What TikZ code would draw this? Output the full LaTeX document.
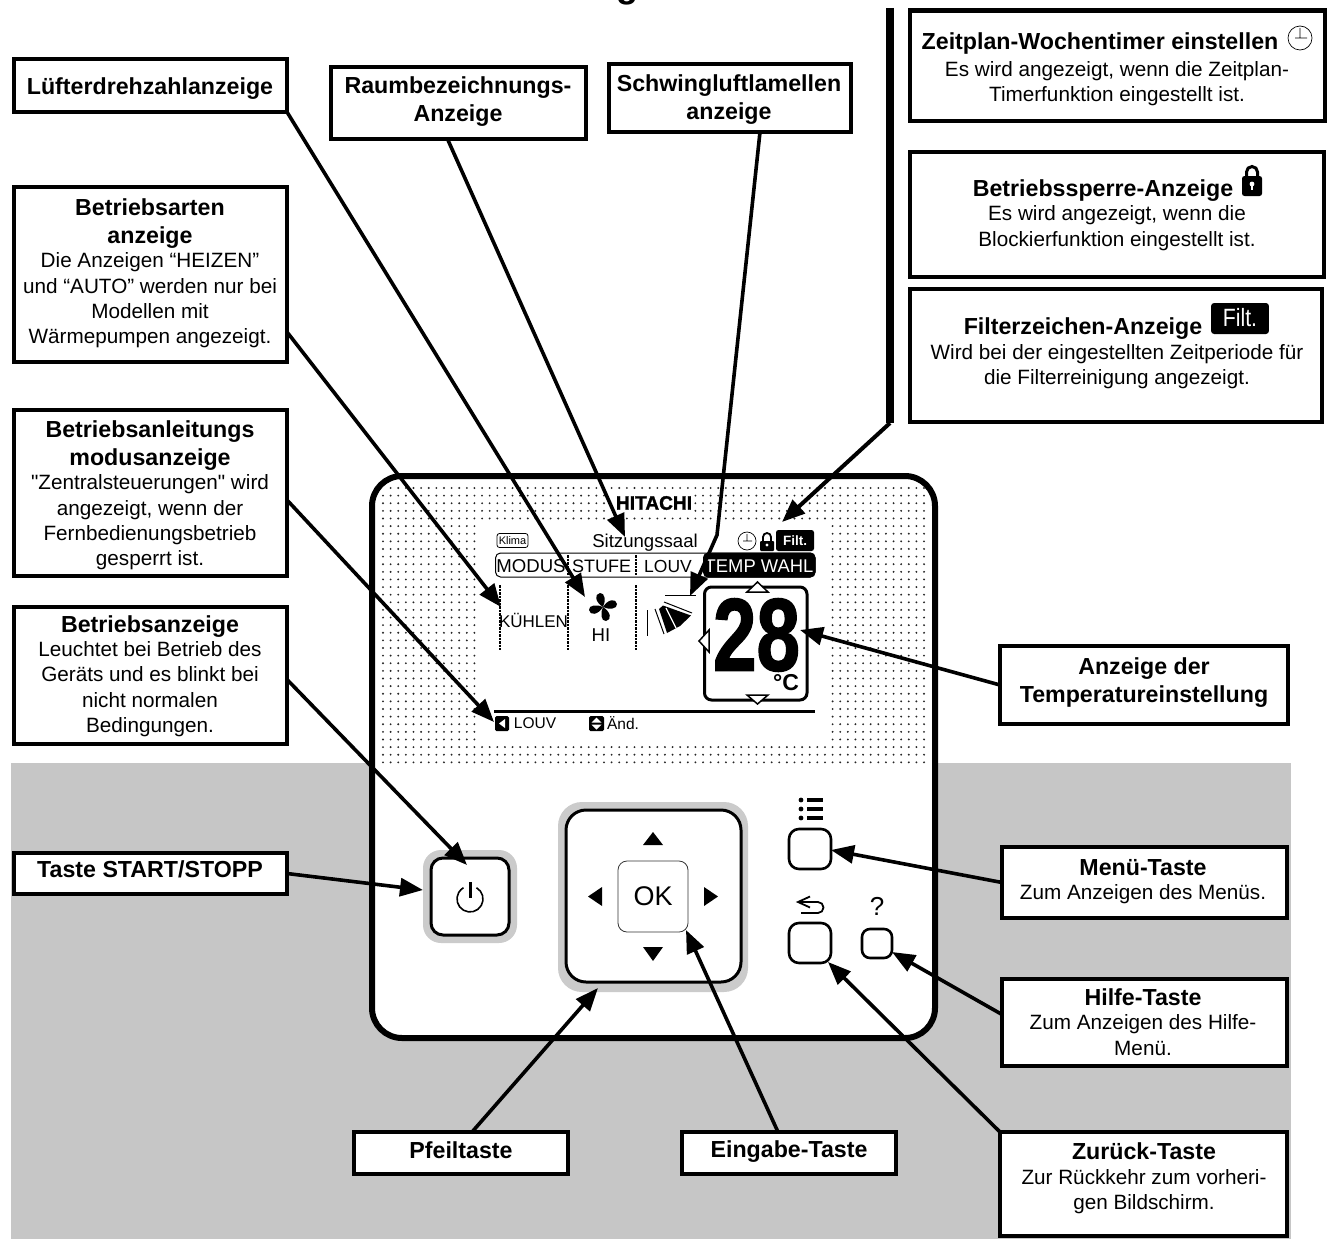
\documentclass[tikz,border=0pt]{standalone}
\usepackage{fontspec}
\setmainfont{Liberation Sans}
\newfontfamily\rawf{Liberation Sans}
\newfontfamily\heavyf{Liberation Sans Bold}[FakeBold=1.6]
\usetikzlibrary{arrows.meta,calc}
\tikzset{
  x=1pt,y=-1pt,
  lblbox/.style={draw=black,line width=4.4pt,fill=white,rectangle,inner sep=0pt,outer sep=0pt,text=black},
  txt/.style={align=center,inner sep=0pt,outer sep=0pt,font=\fontsize{20.7}{25.3}\selectfont},
  hd/.style={align=center,inner sep=0pt,outer sep=0pt,font=\bfseries\fontsize{23.2}{28}\selectfont},
  arr/.style={line width=3.6pt,-{Triangle[length=23pt,width=18pt]},shorten >=0pt},
  key/.style={draw=black,line width=2.6pt,fill=white,rounded corners=10pt},
  gring/.style={fill=ringgray,rounded corners=18pt},
  tabdash/.style={line width=2pt,dash pattern=on 2.5pt off 1pt},
  disp/.style={inner sep=0pt,outer sep=0pt,font=\fontsize{18.6}{20}\selectfont}
}
\definecolor{bandgray}{HTML}{C6C6C6}
\definecolor{ringgray}{HTML}{CBCBCB}
\newcommand{\lbox}[5]{%
  \pgfmathsetmacro{\lw}{#4-#2}\pgfmathsetmacro{\lh}{#5-#3}%
  \pgfmathsetmacro{\lx}{(#4+#2)/2}\pgfmathsetmacro{\ly}{(#5+#3)/2}%
  \node[lblbox,minimum width=\lw pt,minimum height=\lh pt] (#1) at (\lx,\ly) {};}
\begin{document}
\begin{tikzpicture}
\useasboundingbox (0,0) rectangle (1327,1239);
\fill[white] (0,0) rectangle (1327,1239);
% cut-off title descender
\begin{scope}
\clip (0,0) rectangle (1327,1239);
\node[inner sep=0pt,anchor=base,font=\bfseries\fontsize{36}{36}\selectfont] (titleg) at (627,-2.5) {g};
\end{scope}
% grey band
\fill[bandgray] (11,763) rectangle (1291,1239);
% device
\draw[line width=6pt,fill=white,rounded corners=30pt] (372,476) rectangle (935,1038);
% dots
\foreach \i in {0,...,71}{\foreach \j in {0,...,36}{
  \pgfmathsetmacro{\dx}{383+\i*7.62}\pgfmathsetmacro{\dy}{488+\j*7.62}
  \pgfmathtruncatemacro{\skipit}{(\dx>478 && \dx<828 && \dy>522 && \dy<744) || (\dx>608 && \dx<694 && \dy>492 && \dy<516) || (\dx<390 && \dy<492) ? 1 : 0}
  \ifnum\skipit=0 \fill[black!85] (\dx,\dy) circle (1.05pt);\fi
}}
% display
\node[inner sep=0pt,font=\heavyf\fontsize{19.5}{20}\selectfont,xscale=.98] (brand) at (654,503) {HITACHI};
\node[draw,line width=.8pt,rounded corners=2.5pt,minimum width=31pt,minimum height=14pt,inner sep=0pt,font=\fontsize{11}{12}\selectfont] (klima) at (512.5,540.5) {Klima};
\node[disp] (room) at (645,543) {Sitzungssaal};
\draw[line width=.7pt] (747,541) circle (9) (747,534) -- (747,541) (743,541) -- (752,541);
\fill[rounded corners=1pt] (760,541) rectangle (774,551);
\draw[line width=1.8pt] (763,541) -- (763,537) arc (180:360:4) -- (771,541);
\fill[white] (767,545) circle (1.6);
\node[fill=black,rounded corners=2.5pt,text=white,minimum width=38pt,minimum height=21pt,inner sep=0pt,font=\bfseries\fontsize{13.5}{14}\selectfont] (filt) at (795,540.5) {Filt.};
\draw[line width=1pt,rounded corners=5pt] (495.5,553) rectangle (815,577);
\fill[rounded corners=5pt] (703,552.5) rectangle (815.5,577.5);
\node[disp,font=\fontsize{18.6}{20}\selectfont] (modus) at (531,566) {MODUS};
\node[disp,font=\fontsize{18}{20}\selectfont] (stufe) at (601.5,566) {STUFE};
\node[disp,font=\fontsize{17.5}{20}\selectfont] (louv) at (668,566) {LOUV};
\node[disp,text=white,font=\fontsize{18.4}{20}\selectfont] (twahl) at (759,566) {TEMP WAHL};
\draw[tabdash] (568,555) -- (568,576) (636,555) -- (636,576);
\draw[tabdash] (500,585) -- (500,650) (568,585) -- (568,650) (636,585) -- (636,650);
\node[disp,font=\fontsize{17}{20}\selectfont] (kuehlen) at (533.5,620) {KÜHLEN};
\node[disp] (hi) at (601,635) {HI};
% fan
\foreach \a in {0,90,180,270}{
 \begin{scope}[shift={(603,607)},rotate=\a]
 \fill (0,0) .. controls (-8,-5) and (-9,-13) .. (-3,-14) .. controls (2,-14.5) and (3,-6) .. (0,0) -- cycle;
 \end{scope}}
% louver
\draw[line width=.7pt] (647,610) -- (647,636);
\fill (659,609) -- (663,605.5) -- (691,615.5) -- (680,626) -- (667,633) -- cycle;
\draw[white,line width=1.2pt] (666,608) -- (676,628);
\draw[line width=1pt] (655,609) -- (664,634) (664,602) -- (692,613);
\draw[line width=.9pt] (665,595.5) -- (696,595.5);
% temperature frame
\draw[line width=3pt,rounded corners=7pt] (704.5,587) rectangle (807,700);
\draw[line width=1.5pt,fill=white] (747,592) -- (757.5,582) -- (768,592) -- cycle;
\draw[line width=1.5pt,fill=white] (747,695) -- (768,695) -- (757.5,704) -- cycle;
\draw[line width=1.5pt,fill=white] (709,630) -- (709,652) -- (699,641) -- cycle;
\node[inner sep=0pt,font=\heavyf\fontsize{103}{103}\selectfont,xscale=.76] (temp) at (756.5,635) {28};
\node[inner sep=0pt,font=\bfseries\fontsize{23}{24}\selectfont] (degc) at (786,683) {°C};
\draw[line width=3pt] (494,711) -- (815,711);
\fill[rounded corners=1.5pt] (495,716) rectangle (509,731);
\fill[white] (505,719) -- (505,728) -- (499,723.5) -- cycle;
\node[disp,font=\fontsize{15.5}{16}\selectfont] (lv) at (535,723.5) {LOUV};
\fill[rounded corners=1.5pt] (589,716) rectangle (604,731);
\fill[white] (591.5,722.5) -- (601.5,722.5) -- (596.5,717.5) -- cycle;
\fill[white] (591.5,724.5) -- (601.5,724.5) -- (596.5,729.5) -- cycle;
\node[disp,font=\fontsize{15.5}{16}\selectfont] (aend) at (623,723.5) {Änd.};
% buttons
\fill[gring] (423,850) rectangle (517,943);
\draw[key,line width=3pt,rounded corners=12pt] (431,858) rectangle (509,935);
\draw[line width=1.6pt] (476.5,887.7) arc (-60:240:13);
\draw[line width=3pt] (470,882) -- (470,898);
\fill[gring,rounded corners=24pt] (558,802) rectangle (748,992);
\draw[key,line width=3pt,rounded corners=20pt] (566,810) rectangle (741,982);
\node[draw=black!80,line width=.8pt,fill=white,rounded corners=9pt,minimum width=70pt,minimum height=71pt,inner sep=0pt,font=\fontsize{27}{28}\selectfont] (okkey) at (653,896.5) {OK};
\fill (643,845) -- (663,845) -- (653,832) -- cycle;
\fill (643,947) -- (663,947) -- (653,961) -- cycle;
\fill (602,887) -- (602,906) -- (588,896.5) -- cycle;
\fill (704,887) -- (704,906) -- (718,896.5) -- cycle;
\node[key,minimum width=42pt,minimum height=40pt,inner sep=0pt] (menukey) at (810,849) {};
\node[key,minimum width=42pt,minimum height=40pt,inner sep=0pt] (backkey) at (810,943) {};
\node[key,rounded corners=8pt,minimum width=30pt,minimum height=29pt,inner sep=0pt] (helpkey) at (877,943.5) {};
\foreach \yy in {800,809,818}{
  \fill (801,\yy) circle (2.4);
  \draw[line width=3.4pt] (807,\yy) -- (823,\yy);}
\draw[line width=1.8pt] (798,902) -- (818,902) arc (-90:90:5.5) -- (801,913);
\draw[line width=1.8pt] (810,896.5) -- (798,902) -- (810,907.5);
\node[inner sep=0pt,font=\fontsize{26}{27}\selectfont] (qm) at (877,906) {?};
% boxes
\lbox{lfb}{14}{59}{287}{112}
\lbox{rmb}{331}{67}{586}{139}
\lbox{swb}{609}{64}{851}{132}
\lbox{zpb}{909.7}{10.5}{1325}{121}
\lbox{bsb}{909.7}{151.7}{1324}{277}
\lbox{fzb}{909.7}{289}{1322}{421.7}
\lbox{bab}{14}{187}{287}{362}
\lbox{bmb}{14}{410}{287}{576}
\lbox{bzb}{14}{607}{287}{744}
\lbox{tsb}{14}{853}{287}{894}
\lbox{atb}{1000}{646}{1288}{724}
\lbox{mnb}{1002}{847}{1287}{918}
\lbox{hfb}{1002}{979}{1287}{1066}
\lbox{zrb}{1000}{1132}{1287}{1236}
\lbox{pfb}{354}{1132}{568}{1174}
\lbox{egb}{682}{1132}{896}{1174}
% texts
\node[hd] (t1) at (150,88.5) {Lüfterdrehzahlanzeige};
\node[hd] (t2) at (458,102) {Raumbezeichnungs-\\Anzeige};
\node[hd] (t3) at (729,100) {Schwingluftlamellen\\anzeige};
\node[hd] (t4a) at (1100,44) {Zeitplan-Wochentimer einstellen};
\node[txt] (t4b) at (1117,83.5) {Es wird angezeigt, wenn die Zeitplan-\\Timerfunktion eingestellt ist.};
\draw[line width=.7pt] (1300,38) circle (12) (1300,28) -- (1300,38) (1295,38) -- (1307,38);
\node[hd] (t5a) at (1103,191) {Betriebssperre-Anzeige};
\node[txt] (t5b) at (1117,228) {Es wird angezeigt, wenn die\\Blockierfunktion eingestellt ist.};
\fill[rounded corners=2.5pt] (1242,176) rectangle (1262,196);
\draw[line width=3pt] (1246.5,177) -- (1246.5,172) arc (180:360:5.5) -- (1257.5,177);
\fill[white] (1252,184) circle (2.4);
\fill[white] (1250.8,184) rectangle (1253.2,190);
\node[hd] (t6a) at (1083,329) {Filterzeichen-Anzeige};
\node[fill=black,rounded corners=3pt,text=white,minimum width=68pt,minimum height=31pt,inner sep=0pt,font=\fontsize{25}{26}\selectfont,text depth=3pt,xscale=.85] (filtb) at (1240,318.5) {Filt.};
\node[txt] (t6b) at (1117,366.5) {Wird bei der eingestellten Zeitperiode für\\die Filterreinigung angezeigt.};
\node[hd] (t7a) at (150,224) {Betriebsarten\\anzeige};
\node[txt] (t7b) at (150,300.5) {Die Anzeigen “HEIZEN”\\und “AUTO” werden nur bei\\Modellen mit\\Wärmepumpen angezeigt.};
\node[hd] (t8a) at (150,446) {Betriebsanleitungs\\modusanzeige};
\node[txt] (t8b) at (150,522.5) {{\rawf"}Zentralsteuerungen{\rawf"} wird\\angezeigt, wenn der\\Fernbedienungsbetrieb\\gesperrt ist.};
\node[hd] (t9a) at (150,627) {Betriebsanzeige};
\node[txt] (t9b) at (150,689) {Leuchtet bei Betrieb des\\Geräts und es blinkt bei\\nicht normalen\\Bedingungen.};
\node[hd] (t10) at (150,869) {Taste START/STOPP};
\node[hd] (t11) at (1144,682.5) {Anzeige der\\Temperatureinstellung};
\node[hd] (t12a) at (1143,868) {Menü-Taste};
\node[txt] (t12b) at (1143,894) {Zum Anzeigen des Menüs.};
\node[hd] (t13a) at (1143,997) {Hilfe-Taste};
\node[txt] (t13b) at (1143,1035) {Zum Anzeigen des Hilfe-\\Menü.};
\node[hd] (t14a) at (1144,1151) {Zurück-Taste};
\node[txt] (t14b) at (1144,1191.5) {Zur Rückkehr zum vorheri-\\gen Bildschirm.};
\node[hd] (t15) at (461,1150) {Pfeiltaste};
\node[hd] (t16) at (789,1152) {Eingabe-Taste};
% connectors
\coordinate (tipfan) at (585,597);
\coordinate (tiproom) at (625,537);
\coordinate (bendsw) at (717,535);
\coordinate (tipsw) at (690,596);
\coordinate (tipmode) at (501,607);
\coordinate (tipguide) at (494,722);
\coordinate (tippow) at (467,865);
\coordinate (tipstart) at (423,890);
\coordinate (topf) at (890,8);
\coordinate (bendf) at (890,423);
\coordinate (tipf) at (782,522);
\coordinate (tiptemp) at (800,630);
\coordinate (tipmenu) at (831,850);
\coordinate (tiphelp) at (892,952);
\coordinate (tipback) at (828,962);
\coordinate (tipring) at (598,988);
\coordinate (tipok) at (686,930);
\draw[arr] (lfb.south east) -- (tipfan);
\draw[arr] ($(rmb.south)+(-11,0)$) -- (tiproom);
\draw[arr] ($(swb.south)+(30,0)$) -- (bendsw) -- (tipsw);
\draw[arr] ($(bab.south east)+(0,-30)$) -- (tipmode);
\draw[arr] ($(bmb.east)+(0,7)$) -- (tipguide);
\draw[arr] ($(bzb.east)+(0,4)$) -- (tippow);
\draw[arr] (tsb.east) -- (tipstart);
\draw[line width=7.5pt] (topf) -- (bendf);
\draw[arr,line width=4pt] (bendf) -- (tipf);
\draw[arr] (atb.west) -- (tiptemp);
\draw[arr] (mnb.west) -- (tipmenu);
\draw[arr] ($(hfb.west)+(0,-8)$) -- (tiphelp);
\draw[arr] (zrb.north west) -- (tipback);
\draw[arr] ($(pfb.north)+(11,0)$) -- (tipring);
\draw[arr] ($(egb.north)+(-11,0)$) -- (tipok);
\end{tikzpicture}
\end{document}
